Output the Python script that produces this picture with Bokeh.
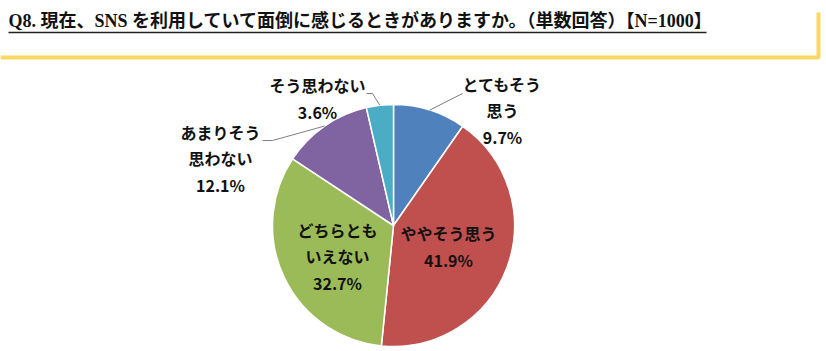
import math
from bokeh.plotting import figure
from bokeh.models import Range1d, ColumnDataSource
from bokeh.core.properties import value
from bokeh.embed import file_html
from bokeh.resources import INLINE

# ---- data ----
categories = ["とてもそう\n思う", "ややそう思う", "どちらとも\nいえない", "あまりそう\n思わない", "そう思わない"]
shares = [9.7, 41.9, 32.7, 12.1, 3.6]
colors = ["#4F81BD", "#C0504D", "#9BBB59", "#8064A2", "#4BACC6"]
title_text = "Q8. 現在、SNS を利用していて面倒に感じるときがありますか。（単数回答）【N=1000】"

# ---- layout (pixel coords, y downward) ----
W, H = 826, 351
CX, CY, R = 393, 225, 121
label_pos = [(502, 110), (448, 246), (337, 256), (220, 158), (317, 98)]
leader_end = [[(462, 93)], None, None, [(272, 140), (262, 140)], [(372, 93), (366, 93)]]

def Y(py):
    return H - py

p = figure(width=W, height=H, output_backend="svg", toolbar_location=None,
           x_range=Range1d(0, W), y_range=Range1d(0, H), min_border=0)
p.axis.visible = False
p.grid.visible = False
p.outline_line_color = None
p.background_fill_color = "white"
p.border_fill_color = "white"

# wedges
total = sum(shares)
starts, ends, mids = [], [], []
acc = 0.0
for v in shares:
    a0 = math.pi / 2 - 2 * math.pi * acc / total
    acc += v
    a1 = math.pi / 2 - 2 * math.pi * acc / total
    starts.append(a0)
    ends.append(a1)
    mids.append((a0 + a1) / 2)

src = ColumnDataSource(dict(start=starts, end=ends, color=colors))
p.wedge(x=CX, y=Y(CY), radius=R, radius_units="screen", start_angle="start", end_angle="end",
        direction="clock", fill_color="color", line_color="white", line_width=1.5, source=src)

# leader lines
for i, pts in enumerate(leader_end):
    if pts is None:
        continue
    ex = CX + R * math.cos(mids[i])
    ey = Y(CY) + R * math.sin(mids[i])
    xs = [ex] + [q[0] for q in pts]
    ys = [ey] + [Y(q[1]) for q in pts]
    p.line(xs, ys, line_color="#808080", line_width=1)

# labels
texts = [f"{c}\n{v}%" for c, v in zip(categories, shares)]
p.text(x=[q[0] for q in label_pos], y=[Y(q[1]) for q in label_pos], text=texts,
       text_align="center", text_baseline="middle", text_font=value("Noto Sans CJK JP"),
       text_font_style="bold", text_font_size="16px", text_color="#111111",
       text_line_height=1.1)

# title
p.text(x=[8], y=[Y(20)], text=[title_text], text_align="left", text_baseline="middle",
       text_font=value("Liberation Serif, Noto Sans CJK JP"), text_font_style="bold",
       text_font_size="18px", text_color="#111111")
p.line([8, 706], [Y(32), Y(32)], line_color="#222222", line_width=1.5)

# yellow frame
p.line([0, 818, 818], [Y(57), Y(57), Y(12)], line_color="#F8D860", line_width=4)

open("out.html", "w").write(file_html(p, INLINE))
